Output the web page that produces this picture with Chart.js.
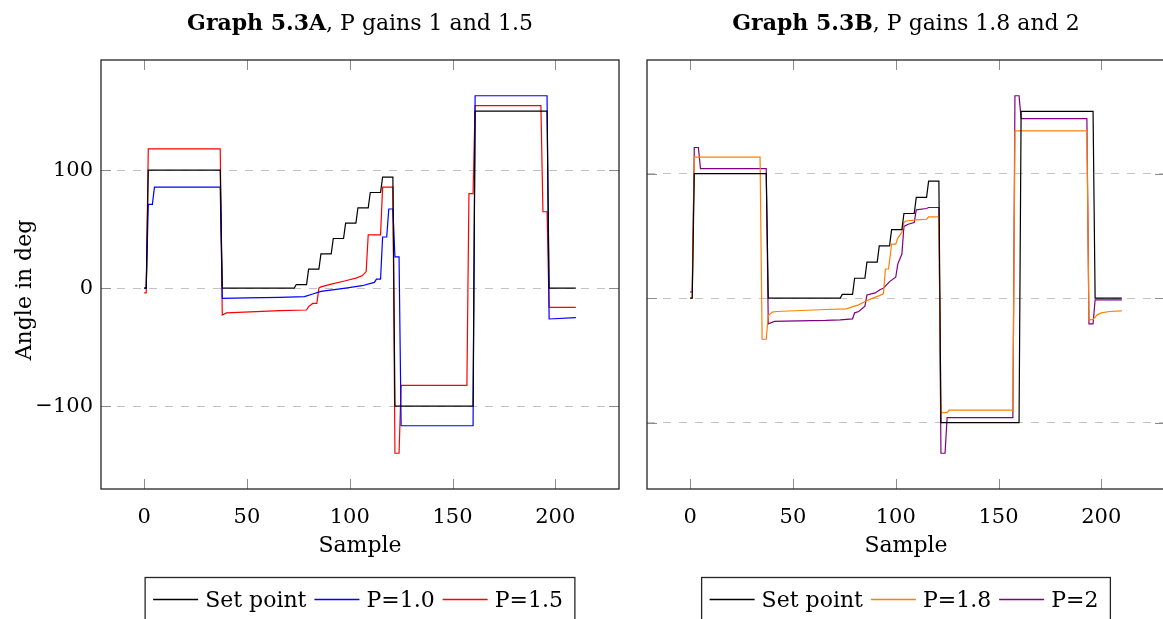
<!DOCTYPE html>
<html>
<head>
<meta charset="utf-8">
<title>Graph 5.3</title>
<script src="https://cdn.jsdelivr.net/npm/chart.js@4.4.0/dist/chart.umd.min.js"></script>
<style>
  html, body { margin: 0; padding: 0; background: #fff; overflow: hidden; }
  body { width: 1163px; height: 619px; position: relative; }
  canvas { position: absolute; top: 0; }
  #chartA { left: 0; }
  #chartB { left: 630px; }
</style>
</head>
<body>
<canvas id="chartA" width="640" height="619"></canvas>
<canvas id="chartB" width="560" height="619"></canvas>
<script>
// -------------------------------
// DATA
// -------------------------------
// set point, same in both graphs
const setS = [0, 1, 2, 37, 38, 73, 74, 79, 80, 85, 86, 91, 92, 97, 98, 103, 104, 109, 110, 115, 116, 121, 122, 160, 161, 196, 197, 210];
const setV = [0, 0, 100, 100, 0, 0, 3, 3, 16, 16, 29, 29, 42, 42, 55, 55, 68, 68, 81, 81, 94, 94, -100, -100, 150, 150, 0, 0];

// P = 1.0
const p10S = [0, 1, 2, 4, 5, 37, 38, 50, 66, 78, 82, 86, 98, 106, 112, 113, 115, 116, 118, 119, 121, 122, 124, 125, 160, 161, 196, 197, 210];
const p10V = [0, 0, 71, 71, 85.5, 85.5, -8.7, -8.3, -7.9, -7.3, -5, -2.8, 0, 2, 4.8, 7.6, 7.6, 43.3, 43.3, 67, 67, 26.4, 26.4, -116.7, -116.7, 163, 163, -26.2, -25];

// P = 1.5
const p15S = [0, 1, 2, 37, 38, 40, 66, 79, 80, 82, 84, 85, 86, 91, 98, 103, 106, 108, 109, 115, 116, 121, 122, 124, 125, 157, 158, 160, 161, 193, 194, 196, 197, 210];
const p15V = [-4, -4, 118, 118, -22.8, -21, -19.1, -18.6, -15.7, -13, -13, 0, 1, 3.4, 6.2, 8.4, 10.4, 14, 45, 45, 85.5, 85.5, -140, -140, -82.4, -82.4, 80, 80, 154.7, 154.7, 64.7, 64.7, -16.3, -16.3];

// P = 1.8
const p18S = [0, 1, 2, 34, 35, 37, 38, 40, 42, 66, 76, 80, 82, 85, 88, 92, 94, 95, 96.5, 98, 100, 101, 103, 104, 105, 110, 115, 116, 121, 122, 125, 126, 157, 158, 193, 194, 196, 198, 200, 204, 210];
const p18V = [0, 0, 113.3, 113.3, -33, -33, -13.9, -11.2, -10.7, -9.1, -8.6, -6.4, -5.4, -2.7, -0.6, 2, 3.4, 23.4, 23.4, 43.4, 43.4, 48.2, 52.8, 60.8, 62, 62.9, 63.4, 65.3, 65.3, -92, -92, -89.9, -89.9, 134.3, 134.3, -17.5, -17, -13.4, -11.8, -10.7, -10.2];

// P = 2
const p2S = [0, 1, 2, 4, 5, 37, 38, 41, 46, 66, 73, 79, 80, 82, 85, 86, 90, 92.5, 94, 97, 100, 101, 103, 104, 106, 109, 110, 115, 116, 121, 122, 124, 125, 157, 158, 160, 161, 193, 194, 196, 197, 210];
const p2V = [5, 5, 121, 121, 104, 104, -20.6, -18.7, -18.4, -17.9, -17.4, -16.6, -11.8, -10.7, -6.4, 2.6, 4.2, 6.9, 8, 13.3, 16.8, 27.4, 35.4, 57.6, 59.4, 60.8, 70.9, 72, 72.8, 72.8, -124.6, -124.6, -96, -96, 162.6, 162.6, 144.2, 144.2, -20.6, -20.6, -1.4, -1.4];

// axes
const xTicks = [0, 50, 100, 150, 200];
const yTicks = [-100, 0, 100];

// -------------------------------
// STYLE
// -------------------------------
const SERIF = "'DejaVu Serif', 'Liberation Serif', serif";

function toPoints(s, v) {
    return s.map((x, i) => ({ x: x, y: v[i] }));
}

function series(label, s, v, color) {
    return {
        label: label,
        data: toPoints(s, v),
        borderColor: color,
        backgroundColor: color,
        borderWidth: 1.2,
        pointRadius: 0,
        tension: 0,
        fill: false
    };
}

// -------------------------------
// FRAME, TICK MARKS, TITLE, LEGEND
// -------------------------------
const pgfPlugin = {
    id: 'pgf',
    afterDraw(chart, args, opts) {
        const ctx = chart.ctx;
        const a = chart.chartArea;
        const sx = chart.scales.x;
        const sy = chart.scales.y;
        const tl = 10;

        ctx.save();

        // tick marks inside the box
        ctx.strokeStyle = '#8c8c8c';
        ctx.lineWidth = 1;
        ctx.beginPath();
        sx.ticks.forEach(t => {
            const px = Math.round(sx.getPixelForValue(t.value)) + 0.5;
            ctx.moveTo(px, a.bottom);
            ctx.lineTo(px, a.bottom - tl);
            ctx.moveTo(px, a.top);
            ctx.lineTo(px, a.top + tl);
        });
        sy.ticks.forEach(t => {
            const py = Math.round(sy.getPixelForValue(t.value)) + 0.5;
            ctx.moveTo(a.left, py);
            ctx.lineTo(a.left + tl, py);
            ctx.moveTo(a.right, py);
            ctx.lineTo(a.right - tl, py);
        });
        ctx.stroke();

        // box
        ctx.strokeStyle = '#262626';
        ctx.lineWidth = 1.3;
        ctx.strokeRect(a.left, a.top, a.right - a.left, a.bottom - a.top);

        const cx = (a.left + a.right) / 2;

        // y label (left graph only)
        if (opts.ylabel) {
            ctx.save();
            ctx.translate(25, 290);
            ctx.rotate(-Math.PI / 2);
            ctx.font = '22px ' + SERIF;
            ctx.fillStyle = '#000';
            ctx.textAlign = 'center';
            ctx.textBaseline = 'middle';
            ctx.fillText(opts.ylabel, 0, 0);
            ctx.restore();
        }

        // title: bold part + normal part
        ctx.fillStyle = '#000';
        ctx.textBaseline = 'alphabetic';
        ctx.textAlign = 'left';
        const boldFont = 'bold 22px ' + SERIF;
        const normFont = '22px ' + SERIF;
        ctx.font = boldFont;
        const wb = ctx.measureText(opts.bold).width;
        ctx.font = normFont;
        const wn = ctx.measureText(opts.rest).width;
        let tx = cx - (wb + wn) / 2;
        ctx.font = boldFont;
        ctx.fillText(opts.bold, tx, 30);
        ctx.font = normFont;
        ctx.fillText(opts.rest, tx + wb, 30);

        // legend box
        const lineLen = 45, gapLine = 7, gapText = 8, padL = 8, padR = 12;
        ctx.font = '22px ' + SERIF;
        const items = chart.data.datasets.map(d => ({
            label: d.label,
            color: d.borderColor,
            w: ctx.measureText(d.label).width
        }));
        let total = padL + padR;
        items.forEach((it, i) => {
            total += lineLen + gapLine + it.w + (i < items.length - 1 ? gapText : 0);
        });
        const bx = cx - total / 2;
        ctx.strokeStyle = '#262626';
        ctx.lineWidth = 1.3;
        ctx.strokeRect(bx, 577.5, total, 80);

        let lx = bx + padL;
        items.forEach(it => {
            ctx.strokeStyle = it.color;
            ctx.lineWidth = 1.4;
            ctx.beginPath();
            ctx.moveTo(lx, 599.5);
            ctx.lineTo(lx + lineLen, 599.5);
            ctx.stroke();
            lx += lineLen + gapLine;
            ctx.fillStyle = '#000';
            ctx.fillText(it.label, lx, 607);
            lx += it.w + gapText;
        });

        ctx.restore();
    }
};

// -------------------------------
// BUILD ONE GRAPH
// -------------------------------
function makeChart(id, datasets, cfg) {
    const ctx = document.getElementById(id).getContext('2d');
    return new Chart(ctx, {
        type: 'line',
        data: { datasets: datasets },
        plugins: [pgfPlugin],
        options: {
            responsive: false,
            animation: false,
            events: [],
            layout: { padding: { top: 60, right: cfg.padRight, bottom: 0, left: 0 } },
            plugins: {
                legend: { display: false },
                tooltip: { enabled: false },
                pgf: { bold: cfg.bold, rest: cfg.rest, ylabel: cfg.ylabel }
            },
            scales: {
                x: {
                    type: 'linear',
                    min: -21,
                    max: 231,
                    afterFit: s => { s.height = 130; },
                    afterBuildTicks: s => { s.ticks = xTicks.map(v => ({ value: v })); },
                    grid: { display: false },
                    border: { display: false },
                    ticks: {
                        padding: 8,
                        color: '#000',
                        font: { family: SERIF, size: 21 }
                    },
                    title: {
                        display: true,
                        text: 'Sample',
                        color: '#000',
                        font: { family: SERIF, size: 22 },
                        padding: { top: 0, bottom: 59.8 }
                    }
                },
                y: {
                    type: 'linear',
                    min: cfg.yMin,
                    max: cfg.yMax,
                    afterFit: s => { s.width = cfg.yWidth; },
                    afterBuildTicks: s => { s.ticks = yTicks.map(v => ({ value: v })); },
                    grid: {
                        color: '#c4c4c4',
                        lineWidth: 1,
                        drawTicks: false
                    },
                    border: { display: false, dash: [8, 8] },
                    ticks: {
                        display: cfg.yLabels,
                        padding: 8,
                        color: '#000',
                        font: { family: SERIF, size: 21 },
                        callback: v => String(v).replace('-', '\u2212')
                    }
                }
            }
        }
    });
}

// -------------------------------
// GRAPH 5.3A
// -------------------------------
makeChart('chartA', [
    series('Set point', setS, setV, '#000000'),
    series('P=1.0', p10S, p10V, '#0000ff'),
    series('P=1.5', p15S, p15V, '#ff0000')
], {
    bold: 'Graph 5.3A', rest: ', P gains 1 and 1.5', ylabel: 'Angle in deg',
    yMin: -170.3, yMax: 193.3, yWidth: 101, yLabels: true, padRight: 21
});

// -------------------------------
// GRAPH 5.3B
// -------------------------------
makeChart('chartB', [
    series('Set point', setS, setV, '#000000'),
    series('P=1.8', p18S, p18V, '#ff8000'),
    series('P=2', p2S, p2V, '#800080')
], {
    bold: 'Graph 5.3B', rest: ', P gains 1.8 and 2', ylabel: null,
    yMin: -153.3, yMax: 191.3, yWidth: 17, yLabels: false, padRight: 25
});
</script>
</body>
</html>
